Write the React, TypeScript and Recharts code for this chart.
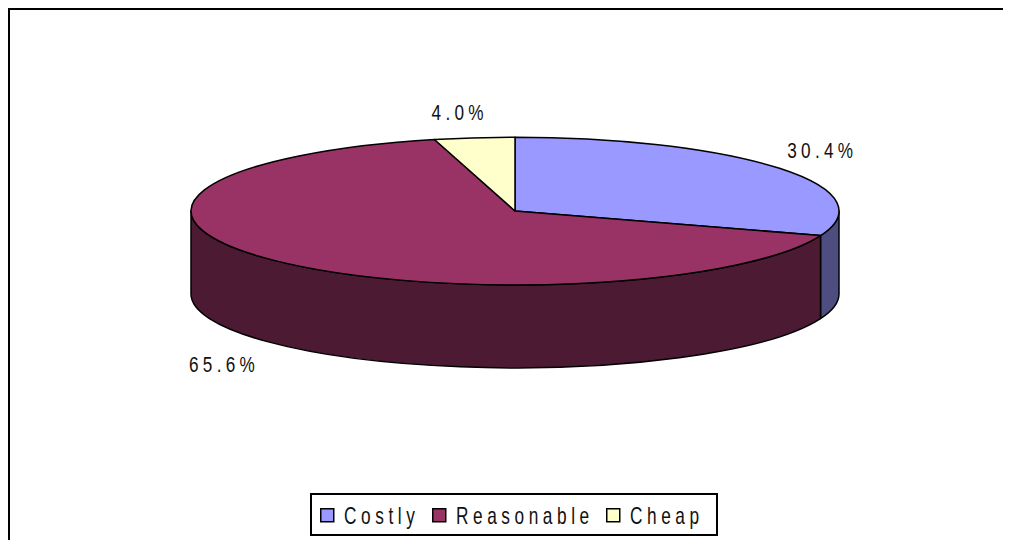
import React from 'react';
import { PieChart, Pie, Legend } from 'recharts';

// Share of respondents by perceived price level
const CATEGORIES = ['Costly', 'Reasonable', 'Cheap'];
const SHARES = [30.4, 65.6, 4.0];
const VALUE_LABELS = ['30.4%', '65.6%', '4.0%'];
const TOP_COLORS = ['#9999FF', '#993366', '#FFFFCC'];
const SIDE_COLORS = ['#4D4D80', '#4D1A33', '#80806A'];

const data = CATEGORIES.map((name, i) => ({ name, value: SHARES[i] }));

// 3-D look: the disc is squashed vertically and given a rim of fixed depth
const TILT = 0.228;
const DEPTH = 83;
const RAD = Math.PI / 180;
const FONT = "'Liberation Sans', Arial, sans-serif";

const pt = (cx: number, cy: number, rx: number, ry: number, a: number, dy = 0) =>
  [cx + rx * Math.cos(a * RAD), cy - ry * Math.sin(a * RAD) + dy];

// Parts of a slice's angular range that face the viewer (lower half of the ellipse)
const frontRanges = (start: number, end: number) => {
  const out: [number, number][] = [];
  for (let k = -2; k <= 1; k++) {
    const lo = -180 + 360 * k;
    const hi = 360 * k;
    const a1 = Math.min(start, hi);
    const a2 = Math.max(end, lo);
    if (a1 > a2) out.push([a1, a2]);
  }
  return out;
};

const renderSlice = (props: any) => {
  const { cx, cy, startAngle, endAngle, outerRadius, midAngle, index } = props;
  const rx = outerRadius;
  const ry = outerRadius * TILT;
  const [sx, sy] = pt(cx, cy, rx, ry, startAngle);
  const [ex, ey] = pt(cx, cy, rx, ry, endAngle);
  const large = Math.abs(startAngle - endAngle) > 180 ? 1 : 0;
  const sin = Math.sin(midAngle * RAD);
  // label box sits just outside the rim: above the top face or below the side wall
  const lx = cx + (rx + 61) * Math.cos(midAngle * RAD) - 7;
  const ly = cy - (ry + 18) * sin + (sin < 0 ? DEPTH + 8 : -8);
  return (
    <g key={`slice-${index}`}>
      {frontRanges(startAngle, endAngle).map(([a1, a2], j) => {
        const [x1, y1] = pt(cx, cy, rx, ry, a1);
        const [x2, y2] = pt(cx, cy, rx, ry, a2);
        return (
          <path
            key={j}
            d={`M${x1},${y1} A${rx},${ry} 0 0 1 ${x2},${y2} L${x2},${y2 + DEPTH} A${rx},${ry} 0 0 0 ${x1},${y1 + DEPTH} Z`}
            fill={SIDE_COLORS[index]}
            stroke="#000"
            strokeWidth={1.5}
            strokeLinejoin="round"
          />
        );
      })}
      <path
        d={`M${cx},${cy} L${sx},${sy} A${rx},${ry} 0 ${large} 1 ${ex},${ey} Z`}
        fill={TOP_COLORS[index]}
        stroke="#000"
        strokeWidth={1.5}
        strokeLinejoin="round"
      />
      <text
        transform={`translate(${lx},${ly}) scale(0.78,1)`}
        textAnchor="middle"
        dominantBaseline="central"
        fontFamily={FONT}
        fontSize={22}
        letterSpacing={5.5}
        fill="#111"
      >
        {VALUE_LABELS[index]}
      </text>
    </g>
  );
};

const LEGEND_X = [10, 122, 296];

const renderLegend = () => (
  <svg width={408} height={43} style={{ display: 'block' }}>
    <rect x={1} y={1} width={406} height={41} fill="#fff" stroke="#000" strokeWidth={2} />
    {CATEGORIES.map((name, i) => (
      <g key={name}>
        <rect
          x={LEGEND_X[i] + 0.75}
          y={15.75}
          width={13}
          height={13}
          fill={TOP_COLORS[i]}
          stroke="#000"
          strokeWidth={1.5}
        />
        <text
          transform={`translate(${LEGEND_X[i] + 24},31) scale(0.75,1)`}
          fontFamily={FONT}
          fontSize={23}
          letterSpacing={6.1}
          fill="#111"
        >
          {name}
        </text>
      </g>
    ))}
  </svg>
);

export default function App() {
  return (
    <div
      style={{
        width: 1003,
        height: 532,
        borderTop: '2px solid #000',
        borderLeft: '2px solid #000',
        boxSizing: 'border-box',
        background: '#fff',
      }}
    >
      <PieChart width={1001} height={530}>
        <Pie
          data={data}
          dataKey="value"
          nameKey="name"
          cx={500}
          cy={196}
          outerRadius={324}
          startAngle={90}
          endAngle={-270}
          fill="none"
          stroke="none"
          label={renderSlice}
          labelLine={false}
          isAnimationActive={false}
        />
        <Legend
          content={renderLegend}
          wrapperStyle={{ position: 'absolute', left: 300, top: 483, width: 408, height: 43 }}
        />
      </PieChart>
    </div>
  );
}
